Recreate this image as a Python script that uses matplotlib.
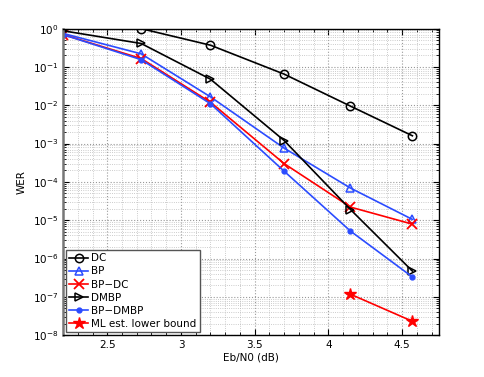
import numpy as np
import matplotlib
matplotlib.use('Agg')
import matplotlib.pyplot as plt
from matplotlib.ticker import MultipleLocator, LogLocator, NullFormatter

# Eb/N0 points (dB)
ebn0 = [2.2, 2.73, 3.2, 3.7, 4.15, 4.57]

dc_x = [2.73, 3.2, 3.7, 4.15, 4.57]
dc = [1.0, 0.37, 0.065, 0.0095, 0.0016]
bp = [0.75, 0.22, 0.0166, 7.6e-4, 6.9e-5, 1.05e-5]
bp_dc = [0.7, 0.166, 0.012, 3.0e-4, 2.2e-5, 7.9e-6]
dmbp = [0.88, 0.41, 0.048, 1.2e-3, 1.9e-5, 4.7e-7]
bp_dmbp = [0.7, 0.155, 0.011, 1.9e-4, 5.2e-6, 3.3e-7]
ml_x = [4.15, 4.57]
ml = [1.17e-7, 2.3e-8]

blue = '#2b4cff'

fig = plt.figure(figsize=(4.85, 3.77), dpi=100)
ax = fig.add_axes([0.13, 0.111, 0.775, 0.813])

ax.semilogy(dc_x, dc, 'k-o', lw=1.2, ms=6, mfc='none', mew=1.1, label='DC')
ax.semilogy(ebn0, bp, '-^', color=blue, lw=1.2, ms=6, mfc='none', mew=1.1, label='BP')
ax.semilogy(ebn0, bp_dc, 'r-x', lw=1.2, ms=7, mew=1.3, label='BP\u2212DC')
ax.semilogy(ebn0, dmbp, 'k->', lw=1.2, ms=6, mfc='none', mew=1.1, label='DMBP')
ax.semilogy(ebn0, bp_dmbp, '-o', color=blue, lw=1.2, ms=3.5, label='BP\u2212DMBP')
ax.semilogy(ml_x, ml, 'r-*', lw=1.2, ms=9, label='ML est. lower bound')

ax.set_xlim(2.2, 4.75)
ax.set_ylim(1e-8, 1)
ax.set_xticks([2.5, 3, 3.5, 4, 4.5])
ax.set_xticklabels(['2.5', '3', '3.5', '4', '4.5'])
ax.xaxis.set_minor_locator(MultipleLocator(0.1))
ax.set_yticks([10.0**k for k in range(-8, 1)])
ax.yaxis.set_minor_locator(LogLocator(base=10, subs=np.arange(2, 10), numticks=20))
ax.yaxis.set_minor_formatter(NullFormatter())

ax.grid(True, which='major', ls=':', color='#999999', lw=0.8)
ax.grid(True, which='minor', ls=':', color='#bbbbbb', lw=0.6)
ax.tick_params(which='both', direction='in', top=True, right=True, labelsize=7.5)
ax.tick_params(which='minor', length=2)
ax.tick_params(which='major', length=4)
for s in ax.spines.values():
    s.set_linewidth(1.0)
ax.spines['left'].set_color('#777777')
ax.spines['left'].set_linewidth(1.8)

ax.set_xlabel('Eb/N0 (dB)', fontsize=7.5, labelpad=2)
ax.set_ylabel('WER', fontsize=7.5)

leg = ax.legend(loc='lower left', fontsize=7.5, fancybox=False, framealpha=1,
                borderaxespad=0.3, handlelength=1.8, handletextpad=0.3,
                labelspacing=0.3, borderpad=0.3)
leg.get_frame().set_edgecolor('#555555')
leg.get_frame().set_linewidth(1.0)

fig.savefig('out.png', dpi=100)
